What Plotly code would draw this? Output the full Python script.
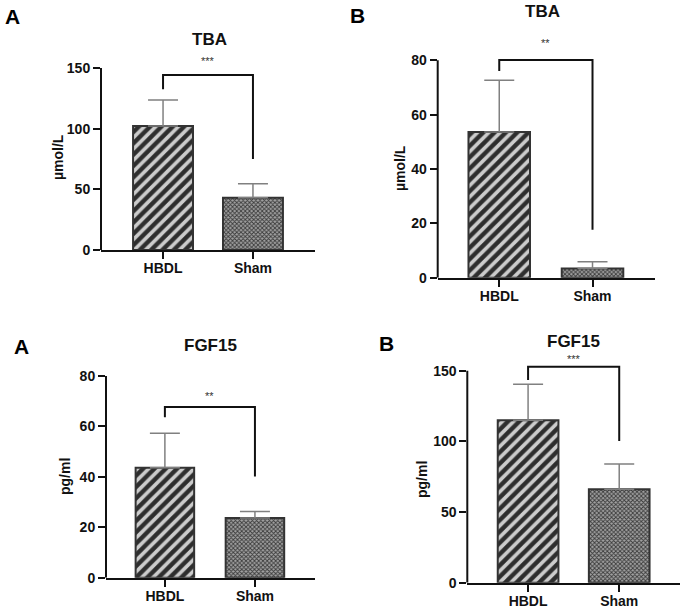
import plotly.graph_objects as go

W, H = 685, 609

categories = ["HBDL", "Sham"]

# panel data: means and upper SD
tba_a_mean = [102.2, 43.1]
tba_a_err = [21.4, 11.5]
tba_b_mean = [53.6, 3.4]
tba_b_err = [19.1, 2.5]
fgf_a_mean = [43.6, 23.7]
fgf_a_err = [13.7, 2.6]
fgf_b_mean = [114.9, 66.1]
fgf_b_err = [25.5, 17.9]

# significance brackets: [left leg end, top, right leg end]
tba_a_bracket = [132.4, 144.2, 75.0]
tba_b_bracket = [76.1, 80.1, 17.6]
fgf_a_bracket = [63.6, 67.7, 40.1]
fgf_b_bracket = [143.4, 152.8, 100.3]

stars = ["***", "**", "**", "***"]
titles = ["TBA", "TBA", "FGF15", "FGF15"]
letters = ["A", "B", "A", "B"]
ytitles = ["µmol/L", "µmol/L", "pg/ml", "pg/ml"]
yticks = [[0, 50, 100, 150], [0, 20, 40, 60, 80], [0, 20, 40, 60, 80], [0, 50, 100, 150]]

FONT = "Liberation Sans, Arial, sans-serif"

# layout (pixels): x-axis px [left, right], y px [bottom(0), top(tick max)], x range, bar width
panels = [
    dict(mean=tba_a_mean, err=tba_a_err, br=tba_a_bracket, px=(101, 315), py=(250, 68),
         xr=(-0.69, 1.69), bw=0.667,
         letter=(12, 17), title=(209, 39), ytitle=(58, 157), star_shift=14),
    dict(mean=tba_b_mean, err=tba_b_err, br=tba_b_bracket, px=(437.7, 655), py=(277.7, 60.3),
         xr=(-0.66, 1.67), bw=0.66,
         letter=(357, 16), title=(542, 12), ytitle=(400, 168), star_shift=17),
    dict(mean=fgf_a_mean, err=fgf_a_err, br=fgf_a_bracket, px=(106, 315), py=(577.7, 376),
         xr=(-0.654, 1.667), bw=0.65,
         letter=(21, 346), title=(210, 345), ytitle=(65, 477), star_shift=11),
    dict(mean=fgf_b_mean, err=fgf_b_err, br=fgf_b_bracket, px=(467.3, 680), py=(582.7, 370.7),
         xr=(-0.667, 1.667), bw=0.666,
         letter=(387, 343), title=(573, 341), ytitle=(422, 480), star_shift=8),
]

fig = go.Figure()
annotations = []
shapes = []

for i, p in enumerate(panels):
    n = i + 1
    xa = "x" if n == 1 else f"x{n}"
    ya = "y" if n == 1 else f"y{n}"
    xk = "xaxis" if n == 1 else f"xaxis{n}"
    yk = "yaxis" if n == 1 else f"yaxis{n}"

    # HBDL striped bar
    fig.add_trace(go.Bar(
        x=[categories[0]], y=[p["mean"][0]], width=p["bw"], xaxis=xa, yaxis=ya,
        marker=dict(color="#c8c8c8", line=dict(color="#333333", width=2),
                    pattern=dict(shape="/", fgcolor="#2e2e2e", bgcolor="#cccccc",
                                 size=8, solidity=0.55, fillmode="replace")),
        error_y=dict(type="data", symmetric=False, array=[p["err"][0]], arrayminus=[0],
                     color="#808080", thickness=1.5, width=15),
        showlegend=False, hoverinfo="skip"))
    # Sham checkered bar
    fig.add_trace(go.Bar(
        x=[categories[1]], y=[p["mean"][1]], width=p["bw"], xaxis=xa, yaxis=ya,
        marker=dict(color="#888888", line=dict(color="#333333", width=2),
                    pattern=dict(shape="x", fgcolor="#3a3a3a", bgcolor="#a2a2a2",
                                 size=3, solidity=0.5, fillmode="replace")),
        error_y=dict(type="data", symmetric=False, array=[p["err"][1]], arrayminus=[0],
                     color="#808080", thickness=1.5, width=15),
        showlegend=False, hoverinfo="skip"))
    # bracket
    br = p["br"]
    fig.add_trace(go.Scatter(
        x=[categories[0], categories[0], categories[1], categories[1]],
        y=[br[0], br[1], br[1], br[2]], mode="lines", xaxis=xa, yaxis=ya,
        line=dict(color="#111111", width=2), cliponaxis=False,
        showlegend=False, hoverinfo="skip"))

    top_tick = yticks[i][-1]
    rtop = max(top_tick, br[1]) * 1.03
    pb, pt = p["py"]
    px_top = pb - rtop / top_tick * (pb - pt)

    x0, x1 = p["px"][0] / W, p["px"][1] / W
    y0, y1 = 1 - pb / H, 1 - px_top / H
    fig.layout[xk] = dict(
        domain=[x0, x1], range=list(p["xr"]), anchor=ya, type="category",
        showline=True, linecolor="#111111", linewidth=2, automargin=False,
        ticks="outside", ticklen=7, tickwidth=2, tickcolor="#111111",
        ticklabelstandoff=-3,
        tickfont=dict(family=FONT, size=14, color="#111111", weight="bold"),
        showgrid=False, zeroline=False, fixedrange=True)
    fig.layout[yk] = dict(
        domain=[y0, y1], range=[0, rtop], anchor=xa, automargin=False,
        tickvals=yticks[i], showline=False,
        ticks="outside", ticklen=7, tickwidth=2, tickcolor="#111111",
        tickfont=dict(family=FONT, size=14, color="#111111", weight="bold"),
        showgrid=False, zeroline=False, fixedrange=True)

    # y-axis line only up to the top tick
    shapes.append(dict(type="line", xref=f"{xa} domain", yref=ya, x0=0, x1=0,
                       y0=0, y1=top_tick, line=dict(color="#111111", width=2)))

    # stars above bracket
    annotations.append(dict(
        x=0.5, y=br[1], xref=xa, yref=ya, text=stars[i], showarrow=False,
        yshift=p["star_shift"], font=dict(family=FONT, size=11, color="#333333"),
        xanchor="center", yanchor="middle"))
    # title
    annotations.append(dict(
        x=p["title"][0] / W, y=1 - p["title"][1] / H, xref="paper", yref="paper",
        text=titles[i], showarrow=False,
        font=dict(family=FONT, size=17, color="#111111", weight="bold"),
        xanchor="center", yanchor="middle"))
    # panel letter
    annotations.append(dict(
        x=p["letter"][0] / W, y=1 - p["letter"][1] / H, xref="paper", yref="paper",
        text=letters[i], showarrow=False,
        font=dict(family=FONT, size=21, color="#000000", weight="bold"),
        xanchor="center", yanchor="middle"))
    # y title
    annotations.append(dict(
        x=p["ytitle"][0] / W, y=1 - p["ytitle"][1] / H, xref="paper", yref="paper",
        text=ytitles[i], showarrow=False, textangle=-90,
        font=dict(family=FONT, size=14, color="#111111", weight="bold"),
        xanchor="center", yanchor="middle"))

fig.update_layout(
    width=W, height=H, margin=dict(l=0, r=0, t=0, b=0),
    paper_bgcolor="white", plot_bgcolor="white",
    barmode="overlay", annotations=annotations, shapes=shapes,
    font=dict(family=FONT))

fig.write_html(
    "out.html",
    config={"displayModeBar": False, "staticPlot": True},
    post_script="document.body.style.margin='0';document.body.style.overflow='hidden';")
